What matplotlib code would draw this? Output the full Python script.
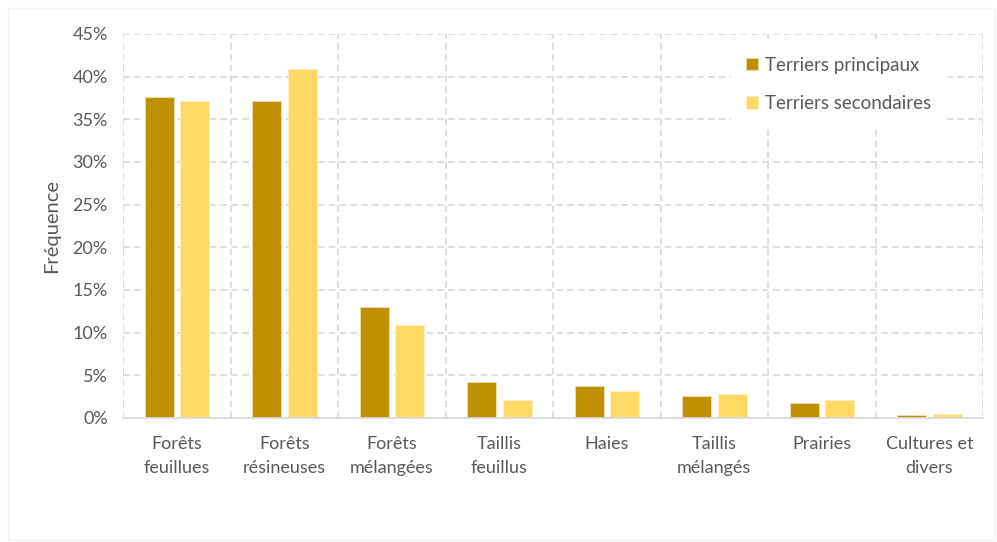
import matplotlib.pyplot as plt
import matplotlib.patches as mpatches
import numpy as np

categories = ["Forêts\nfeuillues", "Forêts\nrésineuses", "Forêts\nmélangées", "Taillis\nfeuillus",
              "Haies", "Taillis\nmélangés", "Prairies", "Cultures et\ndivers"]
principaux = [37.6, 37.1, 13.0, 4.2, 3.8, 2.6, 1.7, 0.3]
secondaires = [37.1, 40.9, 10.9, 2.1, 3.2, 2.8, 2.1, 0.45]
yticks = [0, 5, 10, 15, 20, 25, 30, 35, 40, 45]

dark = "#BF9000"
light = "#FFD966"
grid_col = "#D9D9D9"
text_col = "#595959"

plt.rcParams['font.family'] = ['Lato', 'DejaVu Sans']

fig = plt.figure(figsize=(9.97, 5.42), dpi=100)
ax = fig.add_axes([0.1234, 0.2288, 0.8626, 0.7085])

x = np.arange(len(categories))
w = 0.27
ax.bar(x - 0.165, principaux, w, color=dark, edgecolor="#F2E6C0", linewidth=0.5,
       label="Terriers principaux", zorder=3)
ax.bar(x + 0.165, secondaires, w, color=light, edgecolor="#FFF2CC", linewidth=0.5,
       label="Terriers secondaires", zorder=3)

ax.set_xlim(-0.5, len(categories) - 0.5)
ax.set_ylim(0, 45)
ax.set_yticks(yticks)
ax.set_yticklabels(["%d%%" % t for t in yticks])
ax.set_xticks(x)
ax.set_xticklabels(categories, linespacing=1.6)

# dashed grid, vertical lines on the category boundaries
for t in yticks[1:]:
    ax.axhline(t, color=grid_col, linestyle=(0, (4, 2.5)), linewidth=1.2, zorder=1)
for b in np.arange(-0.5, len(categories), 1.0):
    ax.axvline(b, color=grid_col, linestyle=(0, (4, 2.5)), linewidth=1.2, zorder=1)

for s in ['top', 'right', 'left']:
    ax.spines[s].set_visible(False)
ax.spines['bottom'].set_color(grid_col)
ax.spines['bottom'].set_linewidth(1.3)
ax.spines['bottom'].set_zorder(4)

ax.tick_params(length=0, labelsize=13, labelcolor=text_col)
ax.tick_params(axis='x', pad=13)
ax.tick_params(axis='y', pad=11)
ax.set_ylabel("Fréquence", fontsize=14.5, color=text_col, labelpad=9)

leg = ax.legend(loc="upper left", bbox_to_anchor=(0.707, 0.98), borderaxespad=0,
                frameon=True, fontsize=13.5, handlelength=0.65, handleheight=0.65,
                handletextpad=0.35, labelspacing=1.15, borderpad=0.8, labelcolor=text_col)
leg.get_frame().set_edgecolor("white")
leg.get_frame().set_facecolor("white")
leg.get_frame().set_alpha(1)
leg.get_frame().set_boxstyle("square", pad=0.0)
leg.set_zorder(5)

fig.patches.append(mpatches.Rectangle((0.008, 0.004), 0.99, 0.982, transform=fig.transFigure,
                                      fill=False, edgecolor="#F2F2F2", linewidth=1))

fig.savefig("out.png", dpi=100)
